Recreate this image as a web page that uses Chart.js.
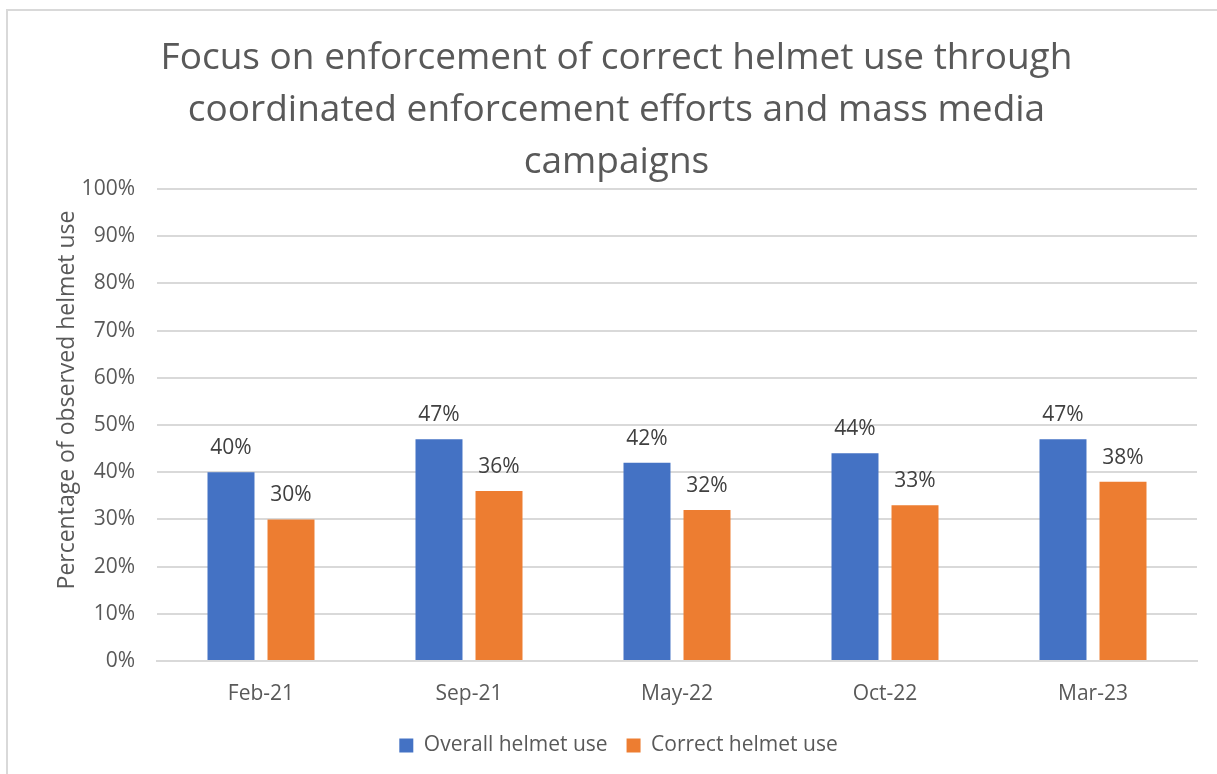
<!DOCTYPE html>
<html>
<head>
<meta charset="utf-8">
<script src="https://cdn.jsdelivr.net/npm/chart.js@4.4.0/dist/chart.umd.min.js"></script>
<style>
  html, body { margin: 0; padding: 0; background: #fff; }
  #frame {
    position: absolute; left: 6px; top: 9px; right: 0; bottom: 0;
    border-left: 2px solid #d9d9d9; border-top: 2px solid #d9d9d9;
  }
  #chart { display: block; }
</style>
</head>
<body>
<div id="frame"><canvas id="chart"></canvas></div>
<script>
// Survey rounds and observed helmet use (%)
const rounds = ['Feb-21', 'Sep-21', 'May-22', 'Oct-22', 'Mar-23'];
const overallUse = [40, 47, 42, 44, 47];
const correctUse = [30, 36, 32, 33, 38];
const titleLines = [
  'Focus on enforcement of correct helmet use through',
  'coordinated enforcement efforts and mass media',
  'campaigns'
];
const yTitle = 'Percentage of observed helmet use';

const FONT = "'Open Sans', 'Liberation Sans', sans-serif";
const GREY = '#595959';

// title and legend sit a little right of the frame centre
const centreShift = {
  id: 'centreShift',
  afterLayout(chart) {
    chart.titleBlock.left += 14;
    chart.titleBlock.right += 14;
    chart.legend.left += 16;
    chart.legend.right += 16;
  }
};

// value above every bar, plus the rotated y-axis title
const barLabels = {
  id: 'barLabels',
  afterDatasetsDraw(chart) {
    const ctx = chart.ctx;
    ctx.save();
    ctx.font = '21px ' + FONT;
    ctx.fillStyle = '#404040';
    ctx.textAlign = 'center';
    ctx.textBaseline = 'alphabetic';
    chart.data.datasets.forEach((ds, i) => {
      chart.getDatasetMeta(i).data.forEach((bar, j) => {
        ctx.fillText(ds.data[j] + '%', bar.x, bar.y - 18);
      });
    });

    ctx.font = '23px ' + FONT;
    ctx.fillStyle = GREY;
    ctx.textBaseline = 'middle';
    ctx.translate(59, chart.chartArea.top + 211);
    ctx.rotate(-Math.PI / 2);
    ctx.fillText(yTitle, 0, 0);
    ctx.restore();
  }
};

const frame = document.getElementById('frame');
const canvas = document.getElementById('chart');
canvas.width = frame.clientWidth;
canvas.height = frame.clientHeight;

new Chart(canvas.getContext('2d'), {
  type: 'bar',
  data: {
    labels: rounds,
    datasets: [
      { label: 'Overall helmet use', data: overallUse, backgroundColor: '#4472C4' },
      { label: 'Correct helmet use', data: correctUse, backgroundColor: '#ED7D31' }
    ]
  },
  options: {
    responsive: false,
    animation: false,
    devicePixelRatio: 1,
    categoryPercentage: 0.577,
    barPercentage: 0.783,
    layout: { padding: { left: 0, right: 20, top: 0, bottom: 8 } },
    plugins: {
      title: {
        display: true,
        text: titleLines,
        color: GREY,
        font: { family: FONT, size: 37, weight: 'normal', lineHeight: 52 / 37 },
        padding: { top: 21, bottom: 1 }
      },
      legend: {
        position: 'bottom',
        labels: {
          color: GREY,
          font: { family: FONT, size: 21 },
          boxWidth: 14,
          boxHeight: 14,
          padding: 19
        }
      },
      tooltip: { enabled: false }
    },
    scales: {
      x: {
        grid: { display: false, drawTicks: false },
        border: { color: '#d9d9d9', width: 2 },
        ticks: { color: GREY, font: { family: FONT, size: 21 }, padding: 20 },
        afterFit(scale) { scale.height = 55; }
      },
      y: {
        min: 0,
        max: 100,
        ticks: {
          stepSize: 10,
          color: GREY,
          font: { family: FONT, size: 21 },
          padding: 22,
          callback: v => v + '%'
        },
        grid: { color: '#d9d9d9', lineWidth: 2, drawTicks: false },
        border: { display: false },
        afterFit(scale) { scale.width = 149; }
      }
    }
  },
  plugins: [centreShift, barLabels]
});
</script>
</body>
</html>
